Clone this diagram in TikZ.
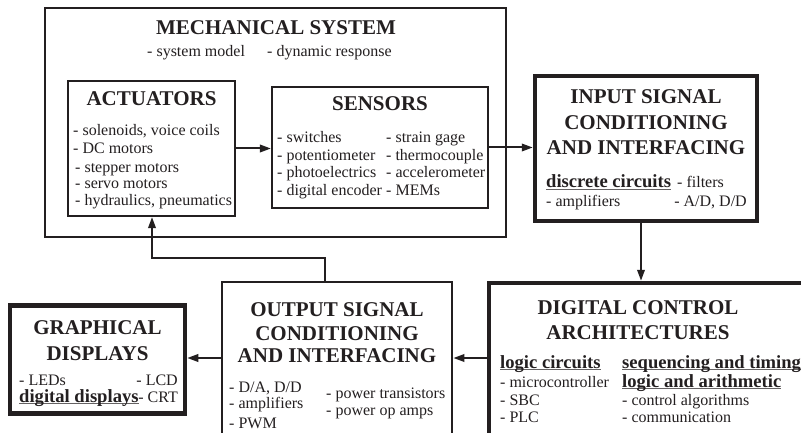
\documentclass[tikz,border=0pt]{standalone}
\usepackage{fontspec}
\setmainfont{Liberation Serif}
\usetikzlibrary{arrows.meta}
\definecolor{ink}{RGB}{35,31,32}
\newcommand{\ulgray}[1]{\setbox0\hbox{#1}\rlap{\color{ink!70}\rule[-2.2pt]{\wd0}{1pt}}\box0}
\tikzset{
  box/.style={draw=ink, inner sep=0pt, fill=white},
  thinbox/.style={box, line width=1.2pt},
  medbox/.style={box, line width=2.2pt},
  midbox/.style={box, line width=2.8pt},
  heavybox/.style={box, line width=4.5pt},
  ttl/.style={inner sep=0pt, anchor=base, font=\fontsize{21}{24}\selectfont\bfseries, text=ink},
  bodyL/.style={inner sep=0pt, anchor=base west, font=\fontsize{16}{18}\selectfont, text=ink},
  bodyR/.style={inner sep=0pt, anchor=base east, font=\fontsize{16}{18}\selectfont, text=ink},
  bodyB/.style={inner sep=0pt, anchor=base west, font=\fontsize{18.6}{20}\selectfont\bfseries, text=ink},
  arr/.style={draw=ink, line width=2pt, -{Triangle[length=11pt,width=7.5pt]}},
}
\begin{document}
\begin{tikzpicture}[x=1pt,y=-1pt]
\useasboundingbox[clip] (0,0) rectangle (801,433);
\fill[white] (0,0) rectangle (801,433);
% boxes
\node[thinbox, minimum width=461pt, minimum height=229pt] (mech) at (275.5,122.5) {};
\node[medbox, minimum width=167pt, minimum height=135pt] (act) at (151.5,148.5) {};
\node[medbox, minimum width=216pt, minimum height=121pt] (sens) at (380,147.5) {};
\node[heavybox, minimum width=222pt, minimum height=145pt] (inp) at (646,148.5) {};
\node[heavybox, minimum width=321pt, minimum height=162pt] (dig) at (649.5,364) {};
\node[midbox, minimum width=230pt, minimum height=163pt] (out) at (337,363.5) {};
\node[heavybox, minimum width=175pt, minimum height=108pt] (gra) at (97.5,359.5) {};
% mechanical
\node[ttl] (mt) at (276,35) {MECHANICAL SYSTEM};
\node[bodyL] (m1) at (147,57) {- system model};
\node[bodyL] (m2) at (267,57) {- dynamic response};
% actuators
\node[ttl] (at) at (151.5,106) {ACTUATORS};
\node[bodyL] (a1) at (73,136) {- solenoids, voice coils};
\node[bodyL] (a2) at (73,154) {- DC motors};
\node[bodyL] (a3) at (75,172) {- stepper motors};
\node[bodyL] (a4) at (75,189) {- servo motors};
\node[bodyL] (a5) at (75,206) {- hydraulics, pneumatics};
% sensors
\node[ttl] (st) at (380,111) {SENSORS};
\node[bodyL] (s1) at (277,143) {- switches};
\node[bodyL] (s2) at (277,161) {- potentiometer};
\node[bodyL] (s3) at (277,178) {- photoelectrics};
\node[bodyL] (s4) at (277,196) {- digital encoder};
\node[bodyL] (s5) at (386,143) {- strain gage};
\node[bodyL] (s6) at (386,161) {- thermocouple};
\node[bodyL] (s7) at (386,178) {- accelerometer};
\node[bodyL] (s8) at (386,196) {- MEMs};
% input
\node[ttl] (it1) at (646,104) {INPUT SIGNAL};
\node[ttl] (it2) at (646,130) {CONDITIONING};
\node[ttl] (it3) at (646,155) {AND INTERFACING};
\node[bodyB] (i1) at (546,188) {\ulgray{discrete circuits}};
\node[bodyL] (i2) at (677,188) {- filters};
\node[bodyL] (i3) at (546,207) {- amplifiers};
\node[bodyR] (i4) at (747,207) {- A/D, D/D};
% digital
\node[ttl] (dt1) at (638,314) {DIGITAL CONTROL};
\node[ttl] (dt2) at (638,339) {ARCHITECTURES};
\node[bodyB] (d1) at (500,368) {\ulgray{logic circuits}};
\node[bodyL] (d2) at (500,387) {- microcontroller};
\node[bodyL] (d3) at (500,405) {- SBC};
\node[bodyL] (d4) at (500,422) {- PLC};
\node[bodyB] (d5) at (622,368) {\ulgray{sequencing and timing}};
\node[bodyB] (d6) at (622,387) {\ulgray{logic and arithmetic}};
\node[bodyL] (d7) at (622,405) {- control algorithms};
\node[bodyL] (d8) at (622,422) {- communication};
% output
\node[ttl] (ot1) at (337,316) {OUTPUT SIGNAL};
\node[ttl] (ot2) at (337,340) {CONDITIONING};
\node[ttl] (ot3) at (337,362) {AND INTERFACING};
\node[bodyL] (o1) at (229,392) {- D/A, D/D};
\node[bodyL] (o2) at (229,408) {- amplifiers};
\node[bodyL] (o3) at (229,428) {- PWM};
\node[bodyL] (o4) at (326,398) {- power transistors};
\node[bodyL] (o5) at (326,415) {- power op amps};
% graphical
\node[ttl] (gt1) at (97.5,334) {GRAPHICAL};
\node[ttl] (gt2) at (97.5,360) {DISPLAYS};
\node[bodyL] (g1) at (19,385) {- LEDs};
\node[bodyR] (g2) at (178,385) {- LCD};
\node[bodyB] (g3) at (19,402) {\ulgray{digital displays}};
\node[bodyR] (g4) at (178,402) {- CRT};
% connectors
\coordinate (ay) at (0,358);
\coordinate (fbr) at (325,258);
\coordinate (fbl) at (152,258);
\draw[arr] (act.east) -- (act.east -| sens.west);
\draw[arr] (sens.east) -- (sens.east -| inp.west);
\draw[arr] ([xshift=-5pt]inp.south) -- ([xshift=-5pt]inp.south |- dig.north);
\draw[arr] (dig.west |- ay) -- (out.east |- ay);
\draw[arr] (out.west |- ay) -- (gra.east |- ay);
\draw[arr] (out.north -| fbr) -- (fbr) -- (fbl) -- (act.south -| fbl);
\end{tikzpicture}
\end{document}
